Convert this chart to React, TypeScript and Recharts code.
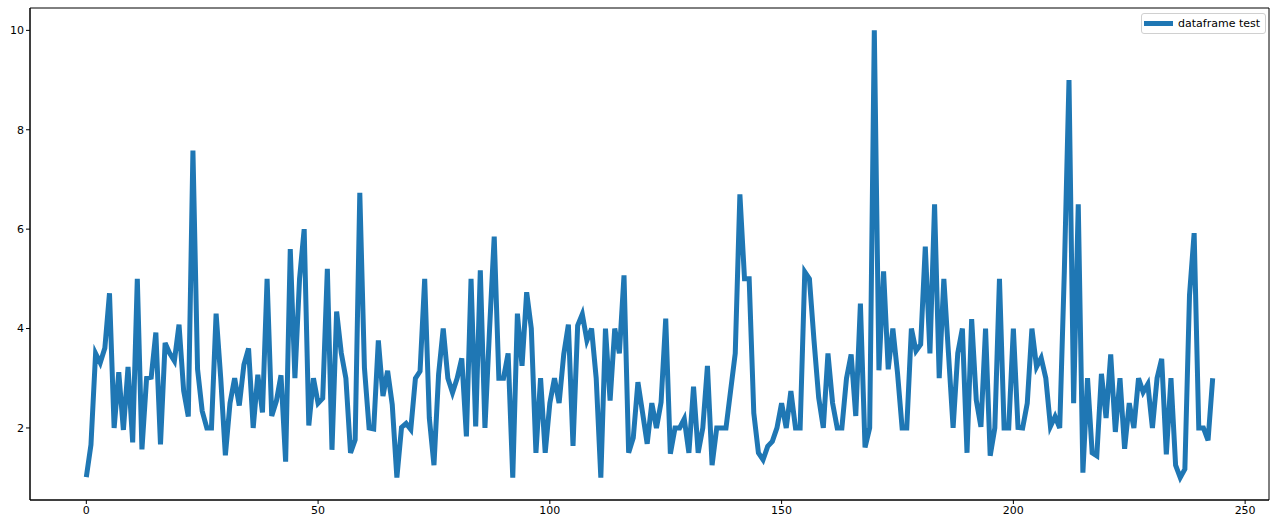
import React from "react";
import { LineChart, Line, XAxis, YAxis, ReferenceArea } from "recharts";

document.body.style.margin = "0";

// tip values, one per row index
const tips: number[] = [
  1.01, 1.66, 3.5, 3.31, 3.61, 4.71, 2.0, 3.12, 1.96, 3.23,
  1.71, 5.0, 1.57, 3.0, 3.02, 3.92, 1.67, 3.71, 3.5, 3.35,
  4.08, 2.75, 2.23, 7.58, 3.18, 2.34, 2.0, 2.0, 4.3, 3.0,
  1.45, 2.5, 3.0, 2.45, 3.27, 3.6, 2.0, 3.07, 2.31, 5.0,
  2.24, 2.54, 3.06, 1.32, 5.6, 3.0, 5.0, 6.0, 2.05, 3.0,
  2.5, 2.6, 5.2, 1.56, 4.34, 3.51, 3.0, 1.5, 1.76, 6.73,
  3.21, 2.0, 1.98, 3.76, 2.64, 3.15, 2.47, 1.0, 2.01, 2.09,
  1.97, 3.0, 3.14, 5.0, 2.2, 1.25, 3.08, 4.0, 3.0, 2.71,
  3.0, 3.4, 1.83, 5.0, 2.03, 5.17, 2.0, 4.0, 5.85, 3.0,
  3.0, 3.5, 1.0, 4.3, 3.25, 4.73, 4.0, 1.5, 3.0, 1.5,
  2.5, 3.0, 2.5, 3.48, 4.08, 1.64, 4.06, 4.29, 3.76, 4.0,
  3.0, 1.0, 4.0, 2.55, 4.0, 3.5, 5.07, 1.5, 1.8, 2.92,
  2.31, 1.68, 2.5, 2.0, 2.52, 4.2, 1.48, 2.0, 2.0, 2.18,
  1.5, 2.83, 1.5, 2.0, 3.25, 1.25, 2.0, 2.0, 2.0, 2.75,
  3.5, 6.7, 5.0, 5.0, 2.3, 1.5, 1.36, 1.63, 1.73, 2.0,
  2.5, 2.0, 2.74, 2.0, 2.0, 5.14, 5.0, 3.75, 2.61, 2.0,
  3.5, 2.5, 2.0, 2.0, 3.0, 3.48, 2.24, 4.5, 1.61, 2.0,
  10.0, 3.16, 5.15, 3.18, 4.0, 3.11, 2.0, 2.0, 4.0, 3.55,
  3.68, 5.65, 3.5, 6.5, 3.0, 5.0, 3.5, 2.0, 3.5, 4.0,
  1.5, 4.19, 2.56, 2.02, 4.0, 1.44, 2.0, 5.0, 2.0, 2.0,
  4.0, 2.01, 2.0, 2.5, 4.0, 3.23, 3.41, 3.0, 2.03, 2.23,
  2.0, 5.16, 9.0, 2.5, 6.5, 1.1, 3.0, 1.5, 1.44, 3.09,
  2.2, 3.48, 1.92, 3.0, 1.58, 2.5, 2.0, 3.0, 2.72, 2.88,
  2.0, 3.0, 3.39, 1.47, 3.0, 1.25, 1.0, 1.17, 4.67, 5.92,
  2.0, 2.0, 1.75, 3.0,
];

const xTicks = [0, 50, 100, 150, 200, 250];
const yTicks = [2, 4, 6, 8, 10];
const seriesName = "dataframe test";

const data = tips.map((v, i) => ({ idx: i, tip: v }));

const xDomain: [number, number] = [-12.15, 255.15];
const yDomain: [number, number] = [0.55, 10.45];

const font = "'DejaVu Sans', sans-serif";

function LegendBox() {
  return (
    <div
      style={{
        position: "absolute",
        left: 1141,
        top: 13,
        display: "flex",
        alignItems: "center",
        border: "1px solid #d0d0d0",
        borderRadius: 3,
        background: "#fff",
        padding: "3px 5px 3px 2px",
        fontFamily: font,
        fontSize: 11,
        color: "#000",
      }}
    >
      <div style={{ width: 29, height: 5, background: "#1f77b4", marginRight: 5 }} />
      <span>{seriesName}</span>
    </div>
  );
}

export default function App() {
  return (
    <div style={{ position: "relative", width: 1277, height: 526, background: "#fff" }}>
      <LineChart
        width={1277}
        height={526}
        data={data}
        margin={{ top: 8, right: 8, left: 0, bottom: 0 }}
      >
        <XAxis
          dataKey="idx"
          type="number"
          domain={xDomain}
          ticks={xTicks}
          allowDataOverflow
          height={26}
          axisLine={{ stroke: "#000" }}
          tickLine={{ stroke: "#000" }}
          tickSize={4}
          tick={{ fill: "#000", fontSize: 11, fontFamily: font }}
        />
        <YAxis
          type="number"
          domain={yDomain}
          ticks={yTicks}
          allowDataOverflow
          width={30}
          axisLine={{ stroke: "#000" }}
          tickLine={{ stroke: "#000" }}
          tickSize={4}
          tick={{ fill: "#000", fontSize: 11, fontFamily: font }}
        />
        <ReferenceArea
          x1={xDomain[0]}
          x2={xDomain[1]}
          y1={yDomain[0]}
          y2={yDomain[1]}
          fill="none"
          stroke="#000"
          strokeWidth={1}
        />
        <Line
          dataKey="tip"
          name={seriesName}
          stroke="#1f77b4"
          strokeWidth={5}
          dot={false}
          activeDot={false}
          isAnimationActive={false}
        />
      </LineChart>
      <LegendBox />
    </div>
  );
}
